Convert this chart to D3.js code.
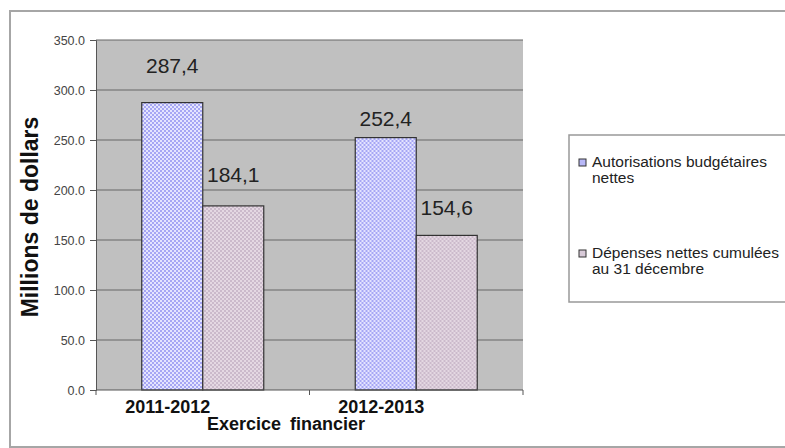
<!DOCTYPE html>
<html>
<head>
<meta charset="utf-8">
<script src="https://cdn.jsdelivr.net/npm/d3@7"></script>
<style>
  html, body { margin:0; padding:0; background:#fff; }
  svg { display:block; font-family:"Liberation Sans", Arial, sans-serif; }
</style>
</head>
<body>
<svg id="chart" width="785" height="448"></svg>
<script>
/* data */
const years   = ["2011-2012", "2012-2013"];
const series  = ["Autorisations budgétaires nettes", "Dépenses nettes cumulées au 31 décembre"];
const budget  = [287.4, 252.4];
const spent   = [184.1, 154.6];
const yTicks  = [0, 50, 100, 150, 200, 250, 300, 350];
/* hand-placed label lift above each bar (px), as in the source */
const lift    = [[30, 24], [12, 20]];

const svg = d3.select("#chart");

/* fill patterns */
const defs = svg.append("defs");
const pB = defs.append("pattern").attr("id","pBlue").attr("patternUnits","userSpaceOnUse")
  .attr("width",4).attr("height",4);
pB.append("rect").attr("width",4).attr("height",4).attr("fill","#a6a6f4");
pB.append("rect").attr("width",2).attr("height",2).attr("fill","#e4e4ff");
pB.append("rect").attr("x",2).attr("y",2).attr("width",2).attr("height",2).attr("fill","#e4e4ff");
const pP = defs.append("pattern").attr("id","pPink").attr("patternUnits","userSpaceOnUse")
  .attr("width",4).attr("height",4);
pP.append("rect").attr("width",4).attr("height",4).attr("fill","#cbbacb");
pP.append("rect").attr("width",2).attr("height",2).attr("fill","#e4d8e2");
pP.append("rect").attr("x",2).attr("y",2).attr("width",2).attr("height",2).attr("fill","#e4d8e2");

/* outer frame */
svg.append("rect").attr("x",10).attr("y",11).attr("width",800).attr("height",436)
  .attr("fill","none").attr("stroke","#a6a6a6").attr("stroke-width",2);

const m = {left:96, top:40, right:523, bottom:390};
const x = d3.scaleBand().domain(years).range([m.left, m.right]);
const xs = d3.scaleBand().domain([0,1]).range([0, x.bandwidth()]).paddingInner(0).paddingOuter(0.75);
const y = d3.scaleLinear().domain([0,350]).range([m.bottom, m.top]);

/* plot area */
svg.append("rect").attr("x",m.left).attr("y",m.top)
  .attr("width",m.right-m.left).attr("height",m.bottom-m.top).attr("fill","#c0c0c0");

/* gridlines */
svg.append("g").selectAll("line").data(yTicks.filter(d=>d>0)).join("line")
  .attr("x1",m.left).attr("x2",m.right)
  .attr("y1",d=>y(d)).attr("y2",d=>y(d))
  .attr("stroke","#666").attr("stroke-width",1.2);

/* y axis */
const ya = svg.append("g").attr("transform",`translate(${m.left},0)`)
  .call(d3.axisLeft(y).tickValues(yTicks).tickFormat(d3.format(".1f")).tickSize(6).tickPadding(5));
ya.select(".domain").attr("stroke","#555");
ya.selectAll(".tick line").attr("stroke","#555");
ya.selectAll("text").attr("font-size",12.5).attr("fill","#444")
  .attr("font-family","Liberation Sans, Arial, sans-serif");

/* bars */
const rows = years.map((yr,i)=>({yr, vals:[budget[i], spent[i]], lift:lift[i]}));
const g = svg.append("g").selectAll("g").data(rows).join("g")
  .attr("transform",d=>`translate(${x(d.yr)},0)`);
g.selectAll("rect").data(d=>d.vals).join("rect")
  .attr("x",(d,j)=>xs(j)).attr("width",xs.bandwidth())
  .attr("y",d=>y(d)).attr("height",d=>y(0)-y(d))
  .attr("fill",(d,j)=>j===0?"url(#pBlue)":"url(#pPink)")
  .attr("stroke","#333").attr("stroke-width",1.2);
g.selectAll("text").data(d=>d.vals.map((v,j)=>({v,j,l:d.lift[j]}))).join("text")
  .attr("x",d=>xs(d.j)+xs.bandwidth()/2).attr("y",d=>y(d.v)-d.l)
  .attr("text-anchor","middle").attr("font-size",21).attr("fill","#222")
  .text(d=>d3.format(".1f")(d.v).replace(".",","));

/* x axis */
svg.append("line").attr("x1",m.left).attr("x2",m.right).attr("y1",m.bottom).attr("y2",m.bottom)
  .attr("stroke","#555").attr("stroke-width",1.2);
svg.append("g").selectAll("line").data([...years.map(d=>x(d)), m.right]).join("line")
  .attr("x1",d=>d).attr("x2",d=>d).attr("y1",m.bottom).attr("y2",m.bottom+5)
  .attr("stroke","#555");
svg.append("g").selectAll("text").data(years).join("text")
  .attr("x",d=>x(d)+x.bandwidth()/2-35).attr("y",413)
  .attr("text-anchor","middle").attr("font-size",18).attr("font-weight","bold").attr("fill","#111")
  .text(d=>d);
svg.append("text").attr("x",286).attr("y",430).attr("text-anchor","middle")
  .attr("font-size",18).attr("font-weight","bold").attr("fill","#111").attr("word-spacing",4)
  .text("Exercice financier");

/* y title */
svg.append("text").attr("transform","translate(38,217) rotate(-90)")
  .attr("text-anchor","middle").attr("font-size",23).attr("font-weight","bold").attr("fill","#111")
  .text("Millions de dollars");

/* legend */
svg.append("rect").attr("x",569).attr("y",135).attr("width",240).attr("height",167)
  .attr("fill","#fff").attr("stroke","#999").attr("stroke-width",1.5);
const legLines = [["Autorisations budgétaires","nettes"],["Dépenses nettes cumulées","au 31 décembre"]];
const lg = svg.append("g").selectAll("g").data(series).join("g")
  .attr("transform",(d,i)=>`translate(579,${i===0?167:258})`);
lg.append("rect").attr("x",0).attr("y",-8).attr("width",7).attr("height",7)
  .attr("fill",(d,i)=>i===0?"#b8b8f8":"#d8cad8").attr("stroke","#333").attr("stroke-width",1);
lg.append("text").attr("x",13).attr("font-size",15.5).attr("fill","#222")
  .selectAll("tspan").data((d,i)=>legLines[i]).join("tspan")
  .attr("x",13).attr("dy",(d,k)=>k===0?0:15.5).text(d=>d);
</script>
</body>
</html>
